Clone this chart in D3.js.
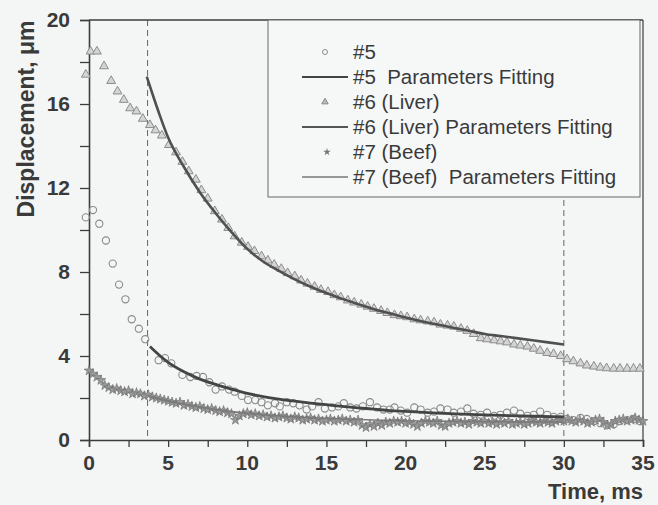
<!DOCTYPE html>
<html><head><meta charset="utf-8">
<script src="https://cdn.jsdelivr.net/npm/d3@7"></script>
<style>
html,body{margin:0;padding:0;background:#f4f6f6;}
svg{display:block;}
text{font-family:"Liberation Sans",Arial,sans-serif;fill:#3a3a3a;white-space:pre;}
</style></head><body>
<svg id="c" width="658" height="505"></svg>
<script>
// ---- data ----
const xTicks = [0,5,10,15,20,25,30,35];
const yTicks = [0,4,8,12,16,20];
const cutLines = [3.7, 30];

const s5 = [[-0.2,10.6],[0.25,10.95],[0.65,10.3],[1.07,9.5],[1.5,8.4],[1.9,7.4],[2.3,6.7],[2.7,5.75],[3.15,5.3],[3.55,4.8],
[4.4,3.8],[4.8,3.9],[5.2,3.65],[5.9,3.1],[6.4,3.0],[6.8,3.05],[7.2,3.0],[7.6,2.75],[8.0,2.4],[8.4,2.55],[8.85,2.4],[9.2,2.3],
[9.65,2.1],[10.05,1.9],[10.5,1.9],[10.9,1.8],[11.3,1.65],[11.75,1.75],[12.05,1.6],[12.5,1.8],[12.9,1.75],[13.3,1.65],[13.75,1.45],
[14.1,1.6],[14.5,1.8],[14.9,1.5],[15.35,1.55],[15.75,1.6],[16.1,1.75],[16.5,1.55],[16.9,1.5],[17.3,1.6],[17.75,1.8],[18.2,1.55],
[18.6,1.45],[19.0,1.45],[19.3,1.55],[19.7,1.4],[20.1,1.3],[20.55,1.55],[20.95,1.45],[21.4,1.3],[21.8,1.35],[22.2,1.5],[22.65,1.45],
[23.05,1.3],[23.5,1.35],[23.9,1.5],[24.3,1.25],[24.75,1.2],[25.15,1.3],[25.6,1.15],[26.0,1.2],[26.4,1.3],[26.85,1.4],[27.25,1.25],
[27.7,1.15],[28.1,1.2],[28.5,1.35],[28.95,1.2],[29.35,1.1],[29.8,1.1],[30.2,1.0],[30.6,0.95],[31.05,1.05],[31.45,1.0],[31.9,0.9],
[32.3,0.8],[32.7,0.7],[33.15,0.75],[33.55,0.9],[34.0,0.95],[34.4,1.0],[34.8,0.9]];

const fit5 = [[3.85,4.45],[4.5,4.0],[5,3.7],[6,3.25],[7,2.9],[8,2.65],[9,2.42],[10,2.22],[11,2.07],[12,1.95],[13,1.85],[14,1.76],
[15,1.68],[16,1.6],[17,1.53],[18,1.47],[19,1.4],[20,1.36],[22,1.28],[24,1.22],[26,1.17],[28,1.13],[30,1.1]];

const s6 = [[-0.2,17.4],[0.1,18.5],[0.5,18.5],[0.95,17.8],[1.4,17.1],[1.8,16.6],[2.2,16.2],[2.6,15.8],[3.0,15.65],[3.4,15.3],
[3.85,15.0],[4.2,14.75],[4.6,14.5],[5.05,14.05],[5.5,13.7],[5.9,13.25],[6.3,12.8],[6.75,12.4],[7.1,11.9],[7.5,11.5],[7.95,10.9],
[8.4,10.5],[8.8,10.1],[9.2,9.7],[9.65,9.4],[10.05,9.2],[10.45,9.0],[10.9,8.75],[11.3,8.55],[11.7,8.35],[12.15,8.15],[12.55,7.95],
[13.0,7.8],[13.4,7.6],[13.8,7.45],[14.25,7.3],[14.65,7.15],[15.1,7.05],[15.5,6.9],[15.9,6.8],[16.35,6.65],[16.75,6.55],[17.2,6.45],
[17.6,6.35],[18.0,6.25],[18.45,6.15],[18.85,6.05],[19.3,5.95],[19.7,5.9],[20.1,5.85],[20.55,5.75],[20.95,5.7],[21.4,5.65],[21.8,5.6],
[22.2,5.5],[22.65,5.45],[23.05,5.4],[23.5,5.3],[23.9,5.2],[24.3,5.05],[24.75,4.85],[25.15,4.8],[25.6,4.75],[26.0,4.7],[26.4,4.65],
[26.85,4.55],[27.25,4.5],[27.7,4.45],[28.1,4.35],[28.5,4.25],[28.95,4.15],[29.35,4.1],[29.8,4.0],[30.2,3.85],[30.6,3.75],[31.05,3.65],
[31.45,3.55],[31.9,3.5],[32.3,3.45],[32.7,3.42],[33.15,3.4],[33.55,3.4],[34.0,3.4],[34.4,3.4],[34.8,3.4]];

const fit6 = [[3.65,17.3],[4,16.5],[4.5,15.4],[5,14.4],[6,13.0],[7,11.8],[8,10.8],[9,9.9],[10,9.1],[11,8.5],[12,8.05],[13,7.65],
[14,7.3],[15,7.0],[16,6.72],[17,6.47],[18,6.23],[19,6.03],[20,5.83],[21,5.65],[22,5.5],[23,5.35],[24,5.2],[25,5.05],[26,4.95],
[27,4.85],[28,4.75],[29,4.65],[30,4.55]];

const s7 = [[0,3.3],[0.25,3.15],[0.5,3.0],[0.75,2.85],[1.0,2.6],[1.25,2.5],[1.5,2.4],[1.75,2.45],[2.0,2.35],[2.25,2.3],[2.5,2.35],
[2.75,2.2],[3.0,2.25],[3.25,2.2],[3.5,2.1],[3.75,2.15],[4.0,2.05],[4.25,2.0],[4.5,1.95],[4.75,1.9],[5.0,1.85],[5.25,1.8],[5.5,1.75],
[5.75,1.8],[6.0,1.65],[6.25,1.7],[6.5,1.6],[6.75,1.55],[7.0,1.6],[7.25,1.5],[7.5,1.45],[7.75,1.5],[8.0,1.4],[8.25,1.35],[8.5,1.4],
[8.75,1.3],[9.0,1.25],[9.25,0.95],[9.5,1.15],[9.75,1.25],[10.0,1.3],[10.25,1.2],[10.5,1.25],[10.75,1.15],[11.0,1.2],[11.25,1.1],
[11.5,1.15],[11.75,1.05],[12.0,1.1],[12.25,1.15],[12.5,1.05],[12.75,1.0],[13.0,1.1],[13.25,1.05],[13.5,0.95],[13.75,1.0],[14.0,1.05],
[14.25,0.95],[14.5,1.0],[14.75,0.9],[15.0,0.95],[15.25,1.0],[15.5,0.9],[15.75,0.95],[16.0,1.0],[16.25,0.9],[16.5,0.95],[16.75,0.85],
[17.0,0.95],[17.25,0.7],[17.5,0.6],[17.75,0.75],[18.0,0.65],[18.25,0.8],[18.5,0.7],[18.75,0.85],[19.0,0.8],[19.25,0.9],[19.5,0.85],
[19.75,0.9],[20.0,0.8],[20.25,0.85],[20.5,0.75],[20.75,0.65],[21.0,0.8],[21.25,0.9],[21.5,0.85],[21.75,0.8],[22.0,0.9],[22.25,0.7],
[22.5,0.65],[22.75,0.8],[23.0,0.85],[23.25,0.9],[23.5,0.8],[23.75,0.85],[24.0,0.75],[24.25,0.9],[24.5,0.85],[24.75,0.8],[25.0,0.9],
[25.25,0.8],[25.5,0.85],[25.75,0.75],[26.0,0.85],[26.25,0.8],[26.5,0.9],[26.75,0.75],[27.0,0.8],[27.25,0.85],[27.5,0.75],[27.75,0.8],
[28.0,0.9],[28.25,0.85],[28.5,0.8],[28.75,0.9],[29.0,0.85],[29.25,0.8],[29.5,0.9],[29.75,0.95],[30.0,0.9],[30.25,1.0],[30.5,0.9],
[30.75,0.85],[31.0,0.95],[31.25,0.9],[31.5,0.8],[31.75,0.85],[32.0,0.95],[32.25,1.0],[32.5,0.85],[32.75,0.7],[33.0,0.75],[33.25,0.9],
[33.5,0.95],[33.75,1.0],[34.0,0.9],[34.25,0.95],[34.5,1.05],[34.75,0.95],[35.0,0.9]];

const fit7 = [[3.85,2.05],[5,1.85],[6,1.7],[7,1.57],[8,1.45],[9,1.35],[10,1.27],[12,1.15],[14,1.06],[16,1.0],[18,0.95],[20,0.92],
[22,0.9],[24,0.88],[26,0.87],[28,0.86],[30,0.85]];

const legendLabels = ["#5","#5  Parameters Fitting","#6 (Liver)","#6 (Liver) Parameters Fitting","#7 (Beef)","#7 (Beef)  Parameters Fitting"];

// ---- layout ----
const svg = d3.select("#c");
const L=89, R=643, T=20, B=440;
const x = d3.scaleLinear().domain([0,35]).range([L,R]);
const y = d3.scaleLinear().domain([0,20]).range([B,T]);
const ink="#3c3c3c", mk="#8a8a8a";

svg.append("rect").attr("width",658).attr("height",505).attr("fill","#f4f6f6");

// dashed verticals
svg.selectAll(".cut").data(cutLines).enter().append("line")
  .attr("x1",d=>x(d)).attr("x2",d=>x(d)).attr("y1",T).attr("y2",B)
  .attr("stroke","#666").attr("stroke-width",1).attr("stroke-dasharray","6,4");

// axes
const xAx = d3.axisBottom(x).tickValues(d3.range(0,35.01,2.5)).tickSize(7).tickFormat("");
const gx = svg.append("g").attr("transform",`translate(0,${B})`).call(xAx);
gx.selectAll(".tick text").remove();
svg.append("g").selectAll("text").data(xTicks).enter().append("text")
  .attr("x",d=>x(d)).attr("y",B+30).attr("text-anchor","middle")
  .attr("font-size",21).attr("font-weight","bold").text(d=>d);
const yAx = d3.axisLeft(y).tickValues(d3.range(0,20.01,2)).tickSize(9).tickFormat("");
const gy = svg.append("g").attr("transform",`translate(${L},0)`).call(yAx);
svg.append("g").selectAll("text").data(yTicks).enter().append("text")
  .attr("x",L-19).attr("y",d=>y(d)+7).attr("text-anchor","end")
  .attr("font-size",21).attr("font-weight","bold").text(d=>d);
[gx,gy].forEach(g=>{g.select(".domain").attr("stroke",ink).attr("stroke-width",1.6);
  g.selectAll(".tick line").attr("stroke",ink).attr("stroke-width",1.3);});
// frame top/right
svg.append("line").attr("x1",L).attr("x2",R).attr("y1",T).attr("y2",T).attr("stroke",ink).attr("stroke-width",1.6);
svg.append("line").attr("x1",R).attr("x2",R).attr("y1",T).attr("y2",B).attr("stroke",ink).attr("stroke-width",1.2);

// titles
svg.append("text").attr("transform","translate(34,119) rotate(-90)").attr("text-anchor","middle")
  .attr("font-size",23).attr("font-weight","bold").text("Displacement, μm");
svg.append("text").attr("x",643).attr("y",499).attr("text-anchor","end")
  .attr("font-size",22).attr("font-weight","bold").text("Time, ms");

// markers
const line = d3.line().x(d=>x(d[0])).y(d=>y(d[1])).curve(d3.curveMonotoneX);
const star = d3.symbol().type(d3.symbolStar).size(30);
const tri = d3.symbol().type(d3.symbolTriangle).size(34);

svg.append("g").selectAll("path").data(s7).enter().append("path")
  .attr("d",star).attr("transform",d=>`translate(${x(d[0])},${y(d[1])})`)
  .attr("fill","#9a9a9a").attr("stroke","#6a6a6a").attr("stroke-width",0.6);
svg.append("g").selectAll("circle").data(s5).enter().append("circle")
  .attr("cx",d=>x(d[0])).attr("cy",d=>y(d[1])).attr("r",3.6)
  .attr("fill","none").attr("stroke",mk).attr("stroke-width",1.1);
svg.append("g").selectAll("path").data(s6).enter().append("path")
  .attr("d",tri).attr("transform",d=>`translate(${x(d[0])},${y(d[1])})`)
  .attr("fill","#d4d4d4").attr("stroke","#8c8c8c").attr("stroke-width",1);

// fits
svg.append("path").datum(fit7).attr("d",line).attr("fill","none").attr("stroke","#7a7a7a").attr("stroke-width",1.6);
svg.append("path").datum(fit5).attr("d",line).attr("fill","none").attr("stroke","#444").attr("stroke-width",2.8);
svg.append("path").datum(fit6).attr("d",line).attr("fill","none").attr("stroke","#505050").attr("stroke-width",2.6);

// legend
const lg = svg.append("g");
lg.append("rect").attr("x",268).attr("y",T).attr("width",372).attr("height",177)
  .attr("fill","#f6f8f8").attr("stroke","#666").attr("stroke-width",1);
const ly = d3.scalePoint().domain(legendLabels).range([52,177]);
lg.selectAll("text").data(legendLabels).enter().append("text")
  .attr("x",353).attr("y",d=>ly(d)+7).attr("font-size",20.5).attr("fill","#444").text(d=>d);
lg.append("circle").attr("cx",325).attr("cy",ly(legendLabels[0])).attr("r",2.5).attr("fill","none").attr("stroke",mk);
lg.append("path").attr("d",d3.symbol().type(d3.symbolTriangle).size(18)).attr("transform",`translate(325,${ly(legendLabels[2])})`)
  .attr("fill","#bbb").attr("stroke","#888");
lg.append("path").attr("d",d3.symbol().type(d3.symbolStar).size(18)).attr("transform",`translate(327,${ly(legendLabels[4])})`)
  .attr("fill","#777");
[[1,"#444",2],[3,"#555",1.8],[5,"#777",1.6]].forEach(([i,c,w])=>{
  lg.append("line").attr("x1",302).attr("x2",348).attr("y1",ly(legendLabels[i])).attr("y2",ly(legendLabels[i]))
    .attr("stroke",c).attr("stroke-width",w);
});
</script></body></html>
